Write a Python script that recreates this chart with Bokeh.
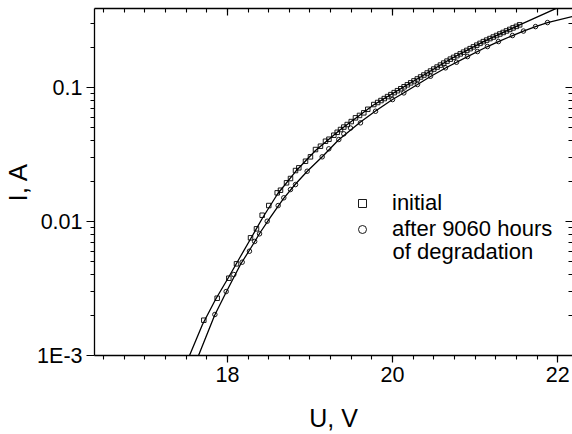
from bokeh.plotting import figure
from bokeh.models import (LinearAxis, LogAxis, FixedTicker, Range1d, Legend,
                          LegendItem, Label, CustomJSTickFormatter)
from bokeh.embed import file_html
from bokeh.resources import INLINE

# ---------------- data ----------------
# measured points, initial state (squares)
init_u = [17.714, 17.876, 18.017, 18.110, 18.280, 18.352, 18.421, 18.501, 18.603, 18.643,
          18.716, 18.764, 18.825, 18.865, 18.946, 19.006, 19.067, 19.127, 19.188, 19.23,
          19.289, 19.33, 19.370, 19.41, 19.451, 19.50, 19.551, 19.60, 19.652, 19.70,
          19.773,
          19.82, 19.86, 19.90, 19.94, 19.98, 20.02, 20.06, 20.10, 20.14, 20.18,
          20.22, 20.26, 20.30, 20.34, 20.38, 20.42, 20.46, 20.50, 20.54, 20.58,
          20.62, 20.66, 20.70, 20.74, 20.78, 20.82, 20.86, 20.90, 20.94, 20.98,
          21.02, 21.06, 21.10, 21.14, 21.18, 21.22, 21.26, 21.30, 21.34, 21.38,
          21.42, 21.46, 21.50, 21.54]
init_i = [0.001834, 0.002676, 0.003775, 0.004834, 0.007557, 0.008820, 0.01114, 0.01316, 0.01637, 0.01712,
          0.01945, 0.02094, 0.02402, 0.02516, 0.02818, 0.03040, 0.03446, 0.03648, 0.03974, 0.04114,
          0.04406, 0.04634, 0.04860, 0.05069, 0.05295, 0.05572, 0.05941, 0.06193, 0.06476, 0.06882,
          0.07467,
          0.07731, 0.07998, 0.08274, 0.08561, 0.08856, 0.09161, 0.09473, 0.09797, 0.1013, 0.1048,
          0.1084, 0.1121, 0.1159, 0.1199, 0.1240, 0.1284, 0.1328, 0.1374, 0.1422, 0.1471,
          0.1522, 0.1575, 0.1629, 0.1679, 0.1730, 0.1783, 0.1837, 0.1893, 0.1951, 0.2011,
          0.2072, 0.2136, 0.2201, 0.2260, 0.2320, 0.2382, 0.2445, 0.2510, 0.2576, 0.2645,
          0.2715, 0.2787, 0.2861, 0.2937]

# measured points after 9060 hours of degradation (circles)
deg_u = [17.848, 17.985, 18.077, 18.179, 18.267, 18.330, 18.389, 18.482, 18.615, 18.683,
         18.764, 18.825, 18.966, 19.148, 19.228, 19.349, 19.410, 19.491, 19.612, 19.794,
         20.000, 20.137, 20.302, 20.460, 20.642, 20.775, 20.908, 21.029, 21.150, 21.283,
         21.453, 21.586, 21.732, 21.877]
deg_i = [0.002023, 0.003003, 0.004022, 0.004970, 0.006003, 0.007100, 0.008094, 0.01005, 0.01316, 0.01503,
         0.01733, 0.01888, 0.02373, 0.03040, 0.03487, 0.04093, 0.04513, 0.04987, 0.05452, 0.06655,
         0.08135, 0.09120, 0.1053, 0.1214, 0.1403, 0.1545, 0.1703, 0.1856, 0.2023, 0.2204,
         0.2444, 0.2639, 0.2851, 0.3055]

# fitted curves (solid lines)
fit_init_u = [17.541, 17.698, 17.856, 18.013, 18.158, 18.280, 18.425, 18.607, 18.825, 19.067,
              19.370, 19.769, 20.012, 20.339, 20.702, 21.102, 21.574, 21.998, 22.180]
fit_init_i = [0.001000, 0.001703, 0.002617, 0.003820, 0.005480, 0.007404, 0.01062, 0.01604, 0.02361, 0.03388,
              0.04860, 0.07404, 0.09099, 0.1198, 0.1632, 0.2204, 0.3003, 0.3936, 0.4383]

fit_deg_u = [17.650, 17.844, 17.989, 18.158, 18.280, 18.401, 18.522, 18.679, 18.825, 18.970,
             19.152, 19.345, 19.612, 19.794, 20.000, 20.133, 20.302, 20.460, 20.642, 20.908,
             21.150, 21.283, 21.453, 21.586, 21.732, 21.877, 22.180]
fit_deg_i = [0.001000, 0.001988, 0.003003, 0.004777, 0.006288, 0.008350, 0.01080, 0.01484, 0.01905, 0.02382,
             0.03056, 0.04057, 0.05526, 0.06678, 0.08135, 0.09099, 0.1053, 0.1208, 0.1398, 0.1703,
             0.2023, 0.2204, 0.2444, 0.2639, 0.2851, 0.3055, 0.3388]

x_major = [16, 18, 20, 22]
y_major = [0.001, 0.01, 0.1, 1.0]
label_initial = "initial"
label_deg_1 = "after 9060 hours"
label_deg_2 = "of degradation"
x_title = "U, V"
y_title = "I, A"

# ---------------- figure ----------------
FONT = "Liberation Sans"
BLACK = "#000000"

p = figure(width=572, height=434, y_axis_type="log",
           x_range=Range1d(16.39, 22.18), y_range=Range1d(0.001, 0.389),
           output_backend="svg", toolbar_location=None,
           min_border_left=94, min_border_right=0, min_border_top=8, min_border_bottom=78)
p.outline_line_color = None
p.grid.visible = False

x_minor = [16 + 0.25 * k for k in range(0, 27)]
y_minor = [k * 10.0 ** d for d in (-3, -2, -1) for k in range(2, 10)]


def xticker():
    return FixedTicker(ticks=x_major, minor_ticks=x_minor)


def yticker():
    return FixedTicker(ticks=y_major, minor_ticks=y_minor)


def style(ax):
    ax.axis_line_color = BLACK
    ax.axis_line_width = 1.3
    ax.major_tick_line_color = BLACK
    ax.major_tick_line_width = 1.2
    ax.minor_tick_line_color = BLACK
    ax.minor_tick_line_width = 1.1
    ax.major_label_text_font = FONT
    ax.major_label_text_color = BLACK
    ax.major_label_text_font_size = "21.5px"
    ax.axis_label_text_font = FONT
    ax.axis_label_text_color = BLACK
    ax.axis_label_text_font_style = "normal"


xb = p.xaxis[0]
style(xb)
xb.ticker = xticker()
xb.major_tick_out = 7
xb.major_tick_in = 0
xb.minor_tick_out = 4
xb.minor_tick_in = 0
xb.major_label_standoff = 4
xb.axis_label = x_title
xb.axis_label_text_font_size = "25px"
xb.axis_label_standoff = 19

yl = p.yaxis[0]
style(yl)
yl.ticker = yticker()
yl.formatter = CustomJSTickFormatter(code="return tick < 0.005 ? '1E-3' : String(tick);")
yl.major_tick_out = 8
yl.major_tick_in = 0
yl.minor_tick_out = 4
yl.minor_tick_in = 0
yl.major_label_standoff = 4
yl.axis_label = y_title
yl.axis_label_text_font_size = "26px"
yl.axis_label_standoff = 1

xt = LinearAxis(ticker=xticker(), formatter=CustomJSTickFormatter(code="return '';"))
style(xt)
xt.axis_label = None
xt.major_label_text_font_size = "0px"
xt.major_label_standoff = 0
xt.major_tick_in = 7
xt.major_tick_out = 0
xt.minor_tick_in = 4
xt.minor_tick_out = 0
p.add_layout(xt, "above")

yr = LogAxis(ticker=yticker(), formatter=CustomJSTickFormatter(code="return '';"))
style(yr)
yr.axis_label = None
yr.axis_line_color = None
yr.major_label_text_font_size = "0px"
yr.major_label_standoff = 0
yr.major_tick_in = 7
yr.major_tick_out = 0
yr.minor_tick_in = 4
yr.minor_tick_out = 0
p.add_layout(yr, "right")

# fitted curves
p.line(fit_init_u, fit_init_i, line_color=BLACK, line_width=1.3)
p.line(fit_deg_u, fit_deg_i, line_color=BLACK, line_width=1.3)

# measured points
r_init = p.scatter(init_u, init_i, marker="square", size=4.5, fill_color="white",
                   fill_alpha=0.0, line_color=BLACK, line_width=0.9)
r_deg = p.scatter(deg_u, deg_i, marker="circle", size=4.5, fill_color="white",
                  fill_alpha=0.0, line_color=BLACK, line_width=0.9)

legend = Legend(items=[LegendItem(label=label_initial, renderers=[r_init]),
                       LegendItem(label=label_deg_1, renderers=[r_deg])],
                location=(258, 113), border_line_color=None, background_fill_alpha=0.0,
                padding=0, margin=0, spacing=-1, glyph_width=20, glyph_height=20,
                label_standoff=20, label_text_font=FONT, label_text_font_size="22px",
                label_text_color=BLACK)
p.add_layout(legend)

p.add_layout(Label(x=298, y=104, x_units="screen", y_units="screen", text=label_deg_2,
                   text_font=FONT, text_font_size="22px", text_color=BLACK,
                   text_baseline="alphabetic", text_align="left"))

open("out.html", "w").write(file_html(p, INLINE))
